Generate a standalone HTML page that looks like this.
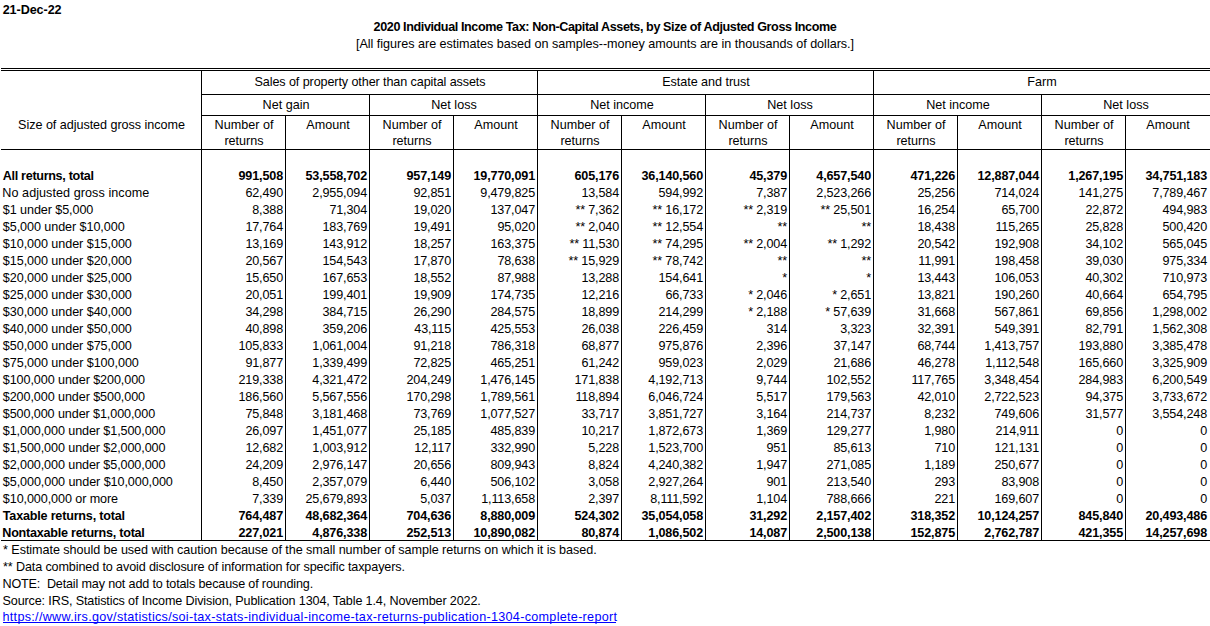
<!DOCTYPE html>
<html><head><meta charset="utf-8"><style>
html,body{margin:0;padding:0;background:#fff;width:1210px;height:626px;overflow:hidden;position:relative}
.t{position:absolute;font-family:"Liberation Sans",sans-serif;font-size:12.6px;line-height:20px;white-space:nowrap;color:#000}
.b{font-weight:bold}
.l{position:absolute;background:#000}
</style></head><body>
<div class="t b" style="top:0px;left:2.70px;letter-spacing:-0.075px;">21-Dec-22</div>
<div class="t b" style="top:17px;left:305.00px;width:600px;text-align:center;letter-spacing:-0.403px;">2020 Individual Income Tax: Non-Capital Assets, by Size of Adjusted Gross Income</div>
<div class="t " style="top:34px;left:305.00px;width:600px;text-align:center;letter-spacing:-0.019px;">[All figures are estimates based on samples--money amounts are in thousands of dollars.]</div>
<div class="l" style="left:1px;top:68px;width:1209px;height:1px;background:#000"></div>
<div class="l" style="left:1px;top:70px;width:1209px;height:1px;background:#000"></div>
<div class="l" style="left:201px;top:94px;width:1009px;height:1px;background:#000"></div>
<div class="l" style="left:201px;top:115px;width:1009px;height:1px;background:#000"></div>
<div class="l" style="left:1px;top:149px;width:1209px;height:1px;background:#000"></div>
<div class="l" style="left:1px;top:540px;width:1209px;height:1px;background:#000"></div>
<div class="l" style="left:201px;top:70px;width:1px;height:471px"></div>
<div class="l" style="left:285px;top:115px;width:1px;height:426px"></div>
<div class="l" style="left:369px;top:94px;width:1px;height:447px"></div>
<div class="l" style="left:453px;top:115px;width:1px;height:426px"></div>
<div class="l" style="left:537px;top:70px;width:1px;height:471px"></div>
<div class="l" style="left:621px;top:115px;width:1px;height:426px"></div>
<div class="l" style="left:705px;top:94px;width:1px;height:447px"></div>
<div class="l" style="left:789px;top:115px;width:1px;height:426px"></div>
<div class="l" style="left:873px;top:70px;width:1px;height:471px"></div>
<div class="l" style="left:957px;top:115px;width:1px;height:426px"></div>
<div class="l" style="left:1041px;top:94px;width:1px;height:447px"></div>
<div class="l" style="left:1125px;top:115px;width:1px;height:426px"></div>
<div class="t " style="top:115px;left:-198.50px;width:600px;text-align:center;letter-spacing:-0.043px;">Size of adjusted gross income</div>
<div class="t " style="top:72px;left:70.00px;width:600px;text-align:center;letter-spacing:-0.100px;">Sales of property other than capital assets</div>
<div class="t " style="top:95px;left:-14.00px;width:600px;text-align:center;">Net gain</div>
<div class="t " style="top:115px;left:-56.00px;width:600px;text-align:center;">Number of</div>
<div class="t " style="top:131px;left:-56.00px;width:600px;text-align:center;">returns</div>
<div class="t " style="top:115px;left:28.00px;width:600px;text-align:center;">Amount</div>
<div class="t " style="top:95px;left:154.00px;width:600px;text-align:center;">Net loss</div>
<div class="t " style="top:115px;left:112.00px;width:600px;text-align:center;">Number of</div>
<div class="t " style="top:131px;left:112.00px;width:600px;text-align:center;">returns</div>
<div class="t " style="top:115px;left:196.00px;width:600px;text-align:center;">Amount</div>
<div class="t " style="top:72px;left:406.00px;width:600px;text-align:center;letter-spacing:-0.040px;">Estate and trust</div>
<div class="t " style="top:95px;left:322.00px;width:600px;text-align:center;">Net income</div>
<div class="t " style="top:115px;left:280.00px;width:600px;text-align:center;">Number of</div>
<div class="t " style="top:131px;left:280.00px;width:600px;text-align:center;">returns</div>
<div class="t " style="top:115px;left:364.00px;width:600px;text-align:center;">Amount</div>
<div class="t " style="top:95px;left:490.00px;width:600px;text-align:center;">Net loss</div>
<div class="t " style="top:115px;left:448.00px;width:600px;text-align:center;">Number of</div>
<div class="t " style="top:131px;left:448.00px;width:600px;text-align:center;">returns</div>
<div class="t " style="top:115px;left:532.00px;width:600px;text-align:center;">Amount</div>
<div class="t " style="top:72px;left:742.00px;width:600px;text-align:center;">Farm</div>
<div class="t " style="top:95px;left:658.00px;width:600px;text-align:center;">Net income</div>
<div class="t " style="top:115px;left:616.00px;width:600px;text-align:center;">Number of</div>
<div class="t " style="top:131px;left:616.00px;width:600px;text-align:center;">returns</div>
<div class="t " style="top:115px;left:700.00px;width:600px;text-align:center;">Amount</div>
<div class="t " style="top:95px;left:826.00px;width:600px;text-align:center;">Net loss</div>
<div class="t " style="top:115px;left:784.00px;width:600px;text-align:center;">Number of</div>
<div class="t " style="top:131px;left:784.00px;width:600px;text-align:center;">returns</div>
<div class="t " style="top:115px;left:868.00px;width:600px;text-align:center;">Amount</div>
<div class="t b" style="top:166px;left:2.80px;letter-spacing:-0.317px;">All returns, total</div>
<div class="t b" style="top:166px;right:927.00px;letter-spacing:-0.150px;">991,508</div>
<div class="t b" style="top:166px;right:843.00px;letter-spacing:-0.150px;">53,558,702</div>
<div class="t b" style="top:166px;right:759.00px;letter-spacing:-0.150px;">957,149</div>
<div class="t b" style="top:166px;right:675.00px;letter-spacing:-0.150px;">19,770,091</div>
<div class="t b" style="top:166px;right:591.00px;letter-spacing:-0.150px;">605,176</div>
<div class="t b" style="top:166px;right:507.00px;letter-spacing:-0.150px;">36,140,560</div>
<div class="t b" style="top:166px;right:423.00px;letter-spacing:-0.150px;">45,379</div>
<div class="t b" style="top:166px;right:339.00px;letter-spacing:-0.150px;">4,657,540</div>
<div class="t b" style="top:166px;right:255.00px;letter-spacing:-0.150px;">471,226</div>
<div class="t b" style="top:166px;right:171.00px;letter-spacing:-0.150px;">12,887,044</div>
<div class="t b" style="top:166px;right:87.00px;letter-spacing:-0.150px;">1,267,195</div>
<div class="t b" style="top:166px;right:3.00px;letter-spacing:-0.150px;">34,751,183</div>
<div class="t " style="top:183px;left:2.30px;letter-spacing:0.060px;">No adjusted gross income</div>
<div class="t " style="top:183px;right:927.00px;letter-spacing:-0.150px;">62,490</div>
<div class="t " style="top:183px;right:843.00px;letter-spacing:-0.150px;">2,955,094</div>
<div class="t " style="top:183px;right:759.00px;letter-spacing:-0.150px;">92,851</div>
<div class="t " style="top:183px;right:675.00px;letter-spacing:-0.150px;">9,479,825</div>
<div class="t " style="top:183px;right:591.00px;letter-spacing:-0.150px;">13,584</div>
<div class="t " style="top:183px;right:507.00px;letter-spacing:-0.150px;">594,992</div>
<div class="t " style="top:183px;right:423.00px;letter-spacing:-0.150px;">7,387</div>
<div class="t " style="top:183px;right:339.00px;letter-spacing:-0.150px;">2,523,266</div>
<div class="t " style="top:183px;right:255.00px;letter-spacing:-0.150px;">25,256</div>
<div class="t " style="top:183px;right:171.00px;letter-spacing:-0.150px;">714,024</div>
<div class="t " style="top:183px;right:87.00px;letter-spacing:-0.150px;">141,275</div>
<div class="t " style="top:183px;right:3.00px;letter-spacing:-0.150px;">7,789,467</div>
<div class="t " style="top:200px;left:2.80px;letter-spacing:-0.086px;">$1 under $5,000</div>
<div class="t " style="top:200px;right:927.00px;letter-spacing:-0.150px;">8,388</div>
<div class="t " style="top:200px;right:843.00px;letter-spacing:-0.150px;">71,304</div>
<div class="t " style="top:200px;right:759.00px;letter-spacing:-0.150px;">19,020</div>
<div class="t " style="top:200px;right:675.00px;letter-spacing:-0.150px;">137,047</div>
<div class="t " style="top:200px;right:591.00px;letter-spacing:-0.150px;">** 7,362</div>
<div class="t " style="top:200px;right:507.00px;letter-spacing:-0.150px;">** 16,172</div>
<div class="t " style="top:200px;right:423.00px;letter-spacing:-0.150px;">** 2,319</div>
<div class="t " style="top:200px;right:339.00px;letter-spacing:-0.150px;">** 25,501</div>
<div class="t " style="top:200px;right:255.00px;letter-spacing:-0.150px;">16,254</div>
<div class="t " style="top:200px;right:171.00px;letter-spacing:-0.150px;">65,700</div>
<div class="t " style="top:200px;right:87.00px;letter-spacing:-0.150px;">22,872</div>
<div class="t " style="top:200px;right:3.00px;letter-spacing:-0.150px;">494,983</div>
<div class="t " style="top:217px;left:2.80px;letter-spacing:-0.074px;">$5,000 under $10,000</div>
<div class="t " style="top:217px;right:927.00px;letter-spacing:-0.150px;">17,764</div>
<div class="t " style="top:217px;right:843.00px;letter-spacing:-0.150px;">183,769</div>
<div class="t " style="top:217px;right:759.00px;letter-spacing:-0.150px;">19,491</div>
<div class="t " style="top:217px;right:675.00px;letter-spacing:-0.150px;">95,020</div>
<div class="t " style="top:217px;right:591.00px;letter-spacing:-0.150px;">** 2,040</div>
<div class="t " style="top:217px;right:507.00px;letter-spacing:-0.150px;">** 12,554</div>
<div class="t " style="top:217px;right:423.00px;letter-spacing:-0.150px;">**</div>
<div class="t " style="top:217px;right:339.00px;letter-spacing:-0.150px;">**</div>
<div class="t " style="top:217px;right:255.00px;letter-spacing:-0.150px;">18,438</div>
<div class="t " style="top:217px;right:171.00px;letter-spacing:-0.150px;">115,265</div>
<div class="t " style="top:217px;right:87.00px;letter-spacing:-0.150px;">25,828</div>
<div class="t " style="top:217px;right:3.00px;letter-spacing:-0.150px;">500,420</div>
<div class="t " style="top:234px;left:2.80px;letter-spacing:-0.060px;">$10,000 under $15,000</div>
<div class="t " style="top:234px;right:927.00px;letter-spacing:-0.150px;">13,169</div>
<div class="t " style="top:234px;right:843.00px;letter-spacing:-0.150px;">143,912</div>
<div class="t " style="top:234px;right:759.00px;letter-spacing:-0.150px;">18,257</div>
<div class="t " style="top:234px;right:675.00px;letter-spacing:-0.150px;">163,375</div>
<div class="t " style="top:234px;right:591.00px;letter-spacing:-0.150px;">** 11,530</div>
<div class="t " style="top:234px;right:507.00px;letter-spacing:-0.150px;">** 74,295</div>
<div class="t " style="top:234px;right:423.00px;letter-spacing:-0.150px;">** 2,004</div>
<div class="t " style="top:234px;right:339.00px;letter-spacing:-0.150px;">** 1,292</div>
<div class="t " style="top:234px;right:255.00px;letter-spacing:-0.150px;">20,542</div>
<div class="t " style="top:234px;right:171.00px;letter-spacing:-0.150px;">192,908</div>
<div class="t " style="top:234px;right:87.00px;letter-spacing:-0.150px;">34,102</div>
<div class="t " style="top:234px;right:3.00px;letter-spacing:-0.150px;">565,045</div>
<div class="t " style="top:251px;left:2.80px;letter-spacing:-0.060px;">$15,000 under $20,000</div>
<div class="t " style="top:251px;right:927.00px;letter-spacing:-0.150px;">20,567</div>
<div class="t " style="top:251px;right:843.00px;letter-spacing:-0.150px;">154,543</div>
<div class="t " style="top:251px;right:759.00px;letter-spacing:-0.150px;">17,870</div>
<div class="t " style="top:251px;right:675.00px;letter-spacing:-0.150px;">78,638</div>
<div class="t " style="top:251px;right:591.00px;letter-spacing:-0.150px;">** 15,929</div>
<div class="t " style="top:251px;right:507.00px;letter-spacing:-0.150px;">** 78,742</div>
<div class="t " style="top:251px;right:423.00px;letter-spacing:-0.150px;">**</div>
<div class="t " style="top:251px;right:339.00px;letter-spacing:-0.150px;">**</div>
<div class="t " style="top:251px;right:255.00px;letter-spacing:-0.150px;">11,991</div>
<div class="t " style="top:251px;right:171.00px;letter-spacing:-0.150px;">198,458</div>
<div class="t " style="top:251px;right:87.00px;letter-spacing:-0.150px;">39,030</div>
<div class="t " style="top:251px;right:3.00px;letter-spacing:-0.150px;">975,334</div>
<div class="t " style="top:268px;left:2.80px;letter-spacing:-0.060px;">$20,000 under $25,000</div>
<div class="t " style="top:268px;right:927.00px;letter-spacing:-0.150px;">15,650</div>
<div class="t " style="top:268px;right:843.00px;letter-spacing:-0.150px;">167,653</div>
<div class="t " style="top:268px;right:759.00px;letter-spacing:-0.150px;">18,552</div>
<div class="t " style="top:268px;right:675.00px;letter-spacing:-0.150px;">87,988</div>
<div class="t " style="top:268px;right:591.00px;letter-spacing:-0.150px;">13,288</div>
<div class="t " style="top:268px;right:507.00px;letter-spacing:-0.150px;">154,641</div>
<div class="t " style="top:268px;right:423.00px;letter-spacing:-0.150px;">*</div>
<div class="t " style="top:268px;right:339.00px;letter-spacing:-0.150px;">*</div>
<div class="t " style="top:268px;right:255.00px;letter-spacing:-0.150px;">13,443</div>
<div class="t " style="top:268px;right:171.00px;letter-spacing:-0.150px;">106,053</div>
<div class="t " style="top:268px;right:87.00px;letter-spacing:-0.150px;">40,302</div>
<div class="t " style="top:268px;right:3.00px;letter-spacing:-0.150px;">710,973</div>
<div class="t " style="top:285px;left:2.80px;letter-spacing:-0.060px;">$25,000 under $30,000</div>
<div class="t " style="top:285px;right:927.00px;letter-spacing:-0.150px;">20,051</div>
<div class="t " style="top:285px;right:843.00px;letter-spacing:-0.150px;">199,401</div>
<div class="t " style="top:285px;right:759.00px;letter-spacing:-0.150px;">19,909</div>
<div class="t " style="top:285px;right:675.00px;letter-spacing:-0.150px;">174,735</div>
<div class="t " style="top:285px;right:591.00px;letter-spacing:-0.150px;">12,216</div>
<div class="t " style="top:285px;right:507.00px;letter-spacing:-0.150px;">66,733</div>
<div class="t " style="top:285px;right:423.00px;letter-spacing:-0.150px;">* 2,046</div>
<div class="t " style="top:285px;right:339.00px;letter-spacing:-0.150px;">* 2,651</div>
<div class="t " style="top:285px;right:255.00px;letter-spacing:-0.150px;">13,821</div>
<div class="t " style="top:285px;right:171.00px;letter-spacing:-0.150px;">190,260</div>
<div class="t " style="top:285px;right:87.00px;letter-spacing:-0.150px;">40,664</div>
<div class="t " style="top:285px;right:3.00px;letter-spacing:-0.150px;">654,795</div>
<div class="t " style="top:302px;left:2.80px;letter-spacing:-0.060px;">$30,000 under $40,000</div>
<div class="t " style="top:302px;right:927.00px;letter-spacing:-0.150px;">34,298</div>
<div class="t " style="top:302px;right:843.00px;letter-spacing:-0.150px;">384,715</div>
<div class="t " style="top:302px;right:759.00px;letter-spacing:-0.150px;">26,290</div>
<div class="t " style="top:302px;right:675.00px;letter-spacing:-0.150px;">284,575</div>
<div class="t " style="top:302px;right:591.00px;letter-spacing:-0.150px;">18,899</div>
<div class="t " style="top:302px;right:507.00px;letter-spacing:-0.150px;">214,299</div>
<div class="t " style="top:302px;right:423.00px;letter-spacing:-0.150px;">* 2,188</div>
<div class="t " style="top:302px;right:339.00px;letter-spacing:-0.150px;">* 57,639</div>
<div class="t " style="top:302px;right:255.00px;letter-spacing:-0.150px;">31,668</div>
<div class="t " style="top:302px;right:171.00px;letter-spacing:-0.150px;">567,861</div>
<div class="t " style="top:302px;right:87.00px;letter-spacing:-0.150px;">69,856</div>
<div class="t " style="top:302px;right:3.00px;letter-spacing:-0.150px;">1,298,002</div>
<div class="t " style="top:319px;left:2.80px;letter-spacing:-0.060px;">$40,000 under $50,000</div>
<div class="t " style="top:319px;right:927.00px;letter-spacing:-0.150px;">40,898</div>
<div class="t " style="top:319px;right:843.00px;letter-spacing:-0.150px;">359,206</div>
<div class="t " style="top:319px;right:759.00px;letter-spacing:-0.150px;">43,115</div>
<div class="t " style="top:319px;right:675.00px;letter-spacing:-0.150px;">425,553</div>
<div class="t " style="top:319px;right:591.00px;letter-spacing:-0.150px;">26,038</div>
<div class="t " style="top:319px;right:507.00px;letter-spacing:-0.150px;">226,459</div>
<div class="t " style="top:319px;right:423.00px;letter-spacing:-0.150px;">314</div>
<div class="t " style="top:319px;right:339.00px;letter-spacing:-0.150px;">3,323</div>
<div class="t " style="top:319px;right:255.00px;letter-spacing:-0.150px;">32,391</div>
<div class="t " style="top:319px;right:171.00px;letter-spacing:-0.150px;">549,391</div>
<div class="t " style="top:319px;right:87.00px;letter-spacing:-0.150px;">82,791</div>
<div class="t " style="top:319px;right:3.00px;letter-spacing:-0.150px;">1,562,308</div>
<div class="t " style="top:336px;left:2.80px;letter-spacing:-0.060px;">$50,000 under $75,000</div>
<div class="t " style="top:336px;right:927.00px;letter-spacing:-0.150px;">105,833</div>
<div class="t " style="top:336px;right:843.00px;letter-spacing:-0.150px;">1,061,004</div>
<div class="t " style="top:336px;right:759.00px;letter-spacing:-0.150px;">91,218</div>
<div class="t " style="top:336px;right:675.00px;letter-spacing:-0.150px;">786,318</div>
<div class="t " style="top:336px;right:591.00px;letter-spacing:-0.150px;">68,877</div>
<div class="t " style="top:336px;right:507.00px;letter-spacing:-0.150px;">975,876</div>
<div class="t " style="top:336px;right:423.00px;letter-spacing:-0.150px;">2,396</div>
<div class="t " style="top:336px;right:339.00px;letter-spacing:-0.150px;">37,147</div>
<div class="t " style="top:336px;right:255.00px;letter-spacing:-0.150px;">68,744</div>
<div class="t " style="top:336px;right:171.00px;letter-spacing:-0.150px;">1,413,757</div>
<div class="t " style="top:336px;right:87.00px;letter-spacing:-0.150px;">193,880</div>
<div class="t " style="top:336px;right:3.00px;letter-spacing:-0.150px;">3,385,478</div>
<div class="t " style="top:353px;left:2.80px;letter-spacing:-0.057px;">$75,000 under $100,000</div>
<div class="t " style="top:353px;right:927.00px;letter-spacing:-0.150px;">91,877</div>
<div class="t " style="top:353px;right:843.00px;letter-spacing:-0.150px;">1,339,499</div>
<div class="t " style="top:353px;right:759.00px;letter-spacing:-0.150px;">72,825</div>
<div class="t " style="top:353px;right:675.00px;letter-spacing:-0.150px;">465,251</div>
<div class="t " style="top:353px;right:591.00px;letter-spacing:-0.150px;">61,242</div>
<div class="t " style="top:353px;right:507.00px;letter-spacing:-0.150px;">959,023</div>
<div class="t " style="top:353px;right:423.00px;letter-spacing:-0.150px;">2,029</div>
<div class="t " style="top:353px;right:339.00px;letter-spacing:-0.150px;">21,686</div>
<div class="t " style="top:353px;right:255.00px;letter-spacing:-0.150px;">46,278</div>
<div class="t " style="top:353px;right:171.00px;letter-spacing:-0.150px;">1,112,548</div>
<div class="t " style="top:353px;right:87.00px;letter-spacing:-0.150px;">165,660</div>
<div class="t " style="top:353px;right:3.00px;letter-spacing:-0.150px;">3,325,909</div>
<div class="t " style="top:370px;left:2.80px;letter-spacing:-0.090px;">$100,000 under $200,000</div>
<div class="t " style="top:370px;right:927.00px;letter-spacing:-0.150px;">219,338</div>
<div class="t " style="top:370px;right:843.00px;letter-spacing:-0.150px;">4,321,472</div>
<div class="t " style="top:370px;right:759.00px;letter-spacing:-0.150px;">204,249</div>
<div class="t " style="top:370px;right:675.00px;letter-spacing:-0.150px;">1,476,145</div>
<div class="t " style="top:370px;right:591.00px;letter-spacing:-0.150px;">171,838</div>
<div class="t " style="top:370px;right:507.00px;letter-spacing:-0.150px;">4,192,713</div>
<div class="t " style="top:370px;right:423.00px;letter-spacing:-0.150px;">9,744</div>
<div class="t " style="top:370px;right:339.00px;letter-spacing:-0.150px;">102,552</div>
<div class="t " style="top:370px;right:255.00px;letter-spacing:-0.150px;">117,765</div>
<div class="t " style="top:370px;right:171.00px;letter-spacing:-0.150px;">3,348,454</div>
<div class="t " style="top:370px;right:87.00px;letter-spacing:-0.150px;">284,983</div>
<div class="t " style="top:370px;right:3.00px;letter-spacing:-0.150px;">6,200,549</div>
<div class="t " style="top:387px;left:2.80px;letter-spacing:-0.090px;">$200,000 under $500,000</div>
<div class="t " style="top:387px;right:927.00px;letter-spacing:-0.150px;">186,560</div>
<div class="t " style="top:387px;right:843.00px;letter-spacing:-0.150px;">5,567,556</div>
<div class="t " style="top:387px;right:759.00px;letter-spacing:-0.150px;">170,298</div>
<div class="t " style="top:387px;right:675.00px;letter-spacing:-0.150px;">1,789,561</div>
<div class="t " style="top:387px;right:591.00px;letter-spacing:-0.150px;">118,894</div>
<div class="t " style="top:387px;right:507.00px;letter-spacing:-0.150px;">6,046,724</div>
<div class="t " style="top:387px;right:423.00px;letter-spacing:-0.150px;">5,517</div>
<div class="t " style="top:387px;right:339.00px;letter-spacing:-0.150px;">179,563</div>
<div class="t " style="top:387px;right:255.00px;letter-spacing:-0.150px;">42,010</div>
<div class="t " style="top:387px;right:171.00px;letter-spacing:-0.150px;">2,722,523</div>
<div class="t " style="top:387px;right:87.00px;letter-spacing:-0.150px;">94,375</div>
<div class="t " style="top:387px;right:3.00px;letter-spacing:-0.150px;">3,733,672</div>
<div class="t " style="top:404px;left:2.80px;letter-spacing:-0.100px;">$500,000 under $1,000,000</div>
<div class="t " style="top:404px;right:927.00px;letter-spacing:-0.150px;">75,848</div>
<div class="t " style="top:404px;right:843.00px;letter-spacing:-0.150px;">3,181,468</div>
<div class="t " style="top:404px;right:759.00px;letter-spacing:-0.150px;">73,769</div>
<div class="t " style="top:404px;right:675.00px;letter-spacing:-0.150px;">1,077,527</div>
<div class="t " style="top:404px;right:591.00px;letter-spacing:-0.150px;">33,717</div>
<div class="t " style="top:404px;right:507.00px;letter-spacing:-0.150px;">3,851,727</div>
<div class="t " style="top:404px;right:423.00px;letter-spacing:-0.150px;">3,164</div>
<div class="t " style="top:404px;right:339.00px;letter-spacing:-0.150px;">214,737</div>
<div class="t " style="top:404px;right:255.00px;letter-spacing:-0.150px;">8,232</div>
<div class="t " style="top:404px;right:171.00px;letter-spacing:-0.150px;">749,606</div>
<div class="t " style="top:404px;right:87.00px;letter-spacing:-0.150px;">31,577</div>
<div class="t " style="top:404px;right:3.00px;letter-spacing:-0.150px;">3,554,248</div>
<div class="t " style="top:421px;left:2.80px;letter-spacing:-0.100px;">$1,000,000 under $1,500,000</div>
<div class="t " style="top:421px;right:927.00px;letter-spacing:-0.150px;">26,097</div>
<div class="t " style="top:421px;right:843.00px;letter-spacing:-0.150px;">1,451,077</div>
<div class="t " style="top:421px;right:759.00px;letter-spacing:-0.150px;">25,185</div>
<div class="t " style="top:421px;right:675.00px;letter-spacing:-0.150px;">485,839</div>
<div class="t " style="top:421px;right:591.00px;letter-spacing:-0.150px;">10,217</div>
<div class="t " style="top:421px;right:507.00px;letter-spacing:-0.150px;">1,872,673</div>
<div class="t " style="top:421px;right:423.00px;letter-spacing:-0.150px;">1,369</div>
<div class="t " style="top:421px;right:339.00px;letter-spacing:-0.150px;">129,277</div>
<div class="t " style="top:421px;right:255.00px;letter-spacing:-0.150px;">1,980</div>
<div class="t " style="top:421px;right:171.00px;letter-spacing:-0.150px;">214,911</div>
<div class="t " style="top:421px;right:87.00px;letter-spacing:-0.150px;">0</div>
<div class="t " style="top:421px;right:3.00px;letter-spacing:-0.150px;">0</div>
<div class="t " style="top:438px;left:2.80px;letter-spacing:-0.100px;">$1,500,000 under $2,000,000</div>
<div class="t " style="top:438px;right:927.00px;letter-spacing:-0.150px;">12,682</div>
<div class="t " style="top:438px;right:843.00px;letter-spacing:-0.150px;">1,003,912</div>
<div class="t " style="top:438px;right:759.00px;letter-spacing:-0.150px;">12,117</div>
<div class="t " style="top:438px;right:675.00px;letter-spacing:-0.150px;">332,990</div>
<div class="t " style="top:438px;right:591.00px;letter-spacing:-0.150px;">5,228</div>
<div class="t " style="top:438px;right:507.00px;letter-spacing:-0.150px;">1,523,700</div>
<div class="t " style="top:438px;right:423.00px;letter-spacing:-0.150px;">951</div>
<div class="t " style="top:438px;right:339.00px;letter-spacing:-0.150px;">85,613</div>
<div class="t " style="top:438px;right:255.00px;letter-spacing:-0.150px;">710</div>
<div class="t " style="top:438px;right:171.00px;letter-spacing:-0.150px;">121,131</div>
<div class="t " style="top:438px;right:87.00px;letter-spacing:-0.150px;">0</div>
<div class="t " style="top:438px;right:3.00px;letter-spacing:-0.150px;">0</div>
<div class="t " style="top:455px;left:2.80px;letter-spacing:-0.100px;">$2,000,000 under $5,000,000</div>
<div class="t " style="top:455px;right:927.00px;letter-spacing:-0.150px;">24,209</div>
<div class="t " style="top:455px;right:843.00px;letter-spacing:-0.150px;">2,976,147</div>
<div class="t " style="top:455px;right:759.00px;letter-spacing:-0.150px;">20,656</div>
<div class="t " style="top:455px;right:675.00px;letter-spacing:-0.150px;">809,943</div>
<div class="t " style="top:455px;right:591.00px;letter-spacing:-0.150px;">8,824</div>
<div class="t " style="top:455px;right:507.00px;letter-spacing:-0.150px;">4,240,382</div>
<div class="t " style="top:455px;right:423.00px;letter-spacing:-0.150px;">1,947</div>
<div class="t " style="top:455px;right:339.00px;letter-spacing:-0.150px;">271,085</div>
<div class="t " style="top:455px;right:255.00px;letter-spacing:-0.150px;">1,189</div>
<div class="t " style="top:455px;right:171.00px;letter-spacing:-0.150px;">250,677</div>
<div class="t " style="top:455px;right:87.00px;letter-spacing:-0.150px;">0</div>
<div class="t " style="top:455px;right:3.00px;letter-spacing:-0.150px;">0</div>
<div class="t " style="top:472px;left:2.80px;letter-spacing:-0.082px;">$5,000,000 under $10,000,000</div>
<div class="t " style="top:472px;right:927.00px;letter-spacing:-0.150px;">8,450</div>
<div class="t " style="top:472px;right:843.00px;letter-spacing:-0.150px;">2,357,079</div>
<div class="t " style="top:472px;right:759.00px;letter-spacing:-0.150px;">6,440</div>
<div class="t " style="top:472px;right:675.00px;letter-spacing:-0.150px;">506,102</div>
<div class="t " style="top:472px;right:591.00px;letter-spacing:-0.150px;">3,058</div>
<div class="t " style="top:472px;right:507.00px;letter-spacing:-0.150px;">2,927,264</div>
<div class="t " style="top:472px;right:423.00px;letter-spacing:-0.150px;">901</div>
<div class="t " style="top:472px;right:339.00px;letter-spacing:-0.150px;">213,540</div>
<div class="t " style="top:472px;right:255.00px;letter-spacing:-0.150px;">293</div>
<div class="t " style="top:472px;right:171.00px;letter-spacing:-0.150px;">83,908</div>
<div class="t " style="top:472px;right:87.00px;letter-spacing:-0.150px;">0</div>
<div class="t " style="top:472px;right:3.00px;letter-spacing:-0.150px;">0</div>
<div class="t " style="top:489px;left:2.80px;letter-spacing:-0.089px;">$10,000,000 or more</div>
<div class="t " style="top:489px;right:927.00px;letter-spacing:-0.150px;">7,339</div>
<div class="t " style="top:489px;right:843.00px;letter-spacing:-0.150px;">25,679,893</div>
<div class="t " style="top:489px;right:759.00px;letter-spacing:-0.150px;">5,037</div>
<div class="t " style="top:489px;right:675.00px;letter-spacing:-0.150px;">1,113,658</div>
<div class="t " style="top:489px;right:591.00px;letter-spacing:-0.150px;">2,397</div>
<div class="t " style="top:489px;right:507.00px;letter-spacing:-0.150px;">8,111,592</div>
<div class="t " style="top:489px;right:423.00px;letter-spacing:-0.150px;">1,104</div>
<div class="t " style="top:489px;right:339.00px;letter-spacing:-0.150px;">788,666</div>
<div class="t " style="top:489px;right:255.00px;letter-spacing:-0.150px;">221</div>
<div class="t " style="top:489px;right:171.00px;letter-spacing:-0.150px;">169,607</div>
<div class="t " style="top:489px;right:87.00px;letter-spacing:-0.150px;">0</div>
<div class="t " style="top:489px;right:3.00px;letter-spacing:-0.150px;">0</div>
<div class="t b" style="top:506px;left:2.80px;letter-spacing:-0.200px;">Taxable returns, total</div>
<div class="t b" style="top:506px;right:927.00px;letter-spacing:-0.150px;">764,487</div>
<div class="t b" style="top:506px;right:843.00px;letter-spacing:-0.150px;">48,682,364</div>
<div class="t b" style="top:506px;right:759.00px;letter-spacing:-0.150px;">704,636</div>
<div class="t b" style="top:506px;right:675.00px;letter-spacing:-0.150px;">8,880,009</div>
<div class="t b" style="top:506px;right:591.00px;letter-spacing:-0.150px;">524,302</div>
<div class="t b" style="top:506px;right:507.00px;letter-spacing:-0.150px;">35,054,058</div>
<div class="t b" style="top:506px;right:423.00px;letter-spacing:-0.150px;">31,292</div>
<div class="t b" style="top:506px;right:339.00px;letter-spacing:-0.150px;">2,157,402</div>
<div class="t b" style="top:506px;right:255.00px;letter-spacing:-0.150px;">318,352</div>
<div class="t b" style="top:506px;right:171.00px;letter-spacing:-0.150px;">10,124,257</div>
<div class="t b" style="top:506px;right:87.00px;letter-spacing:-0.150px;">845,840</div>
<div class="t b" style="top:506px;right:3.00px;letter-spacing:-0.150px;">20,493,486</div>
<div class="t b" style="top:523px;left:2.30px;letter-spacing:-0.242px;">Nontaxable returns, total</div>
<div class="t b" style="top:523px;right:927.00px;letter-spacing:-0.150px;">227,021</div>
<div class="t b" style="top:523px;right:843.00px;letter-spacing:-0.150px;">4,876,338</div>
<div class="t b" style="top:523px;right:759.00px;letter-spacing:-0.150px;">252,513</div>
<div class="t b" style="top:523px;right:675.00px;letter-spacing:-0.150px;">10,890,082</div>
<div class="t b" style="top:523px;right:591.00px;letter-spacing:-0.150px;">80,874</div>
<div class="t b" style="top:523px;right:507.00px;letter-spacing:-0.150px;">1,086,502</div>
<div class="t b" style="top:523px;right:423.00px;letter-spacing:-0.150px;">14,087</div>
<div class="t b" style="top:523px;right:339.00px;letter-spacing:-0.150px;">2,500,138</div>
<div class="t b" style="top:523px;right:255.00px;letter-spacing:-0.150px;">152,875</div>
<div class="t b" style="top:523px;right:171.00px;letter-spacing:-0.150px;">2,762,787</div>
<div class="t b" style="top:523px;right:87.00px;letter-spacing:-0.150px;">421,355</div>
<div class="t b" style="top:523px;right:3.00px;letter-spacing:-0.150px;">14,257,698</div>
<div class="t " style="top:540px;left:3.00px;letter-spacing:-0.053px;white-space:pre;">* Estimate should be used with caution because of the small number of sample returns on which it is based.</div>
<div class="t " style="top:557px;left:3.00px;letter-spacing:-0.121px;white-space:pre;">** Data combined to avoid disclosure of information for specific taxpayers.</div>
<div class="t " style="top:574px;left:2.50px;letter-spacing:-0.156px;white-space:pre;">NOTE:  Detail may not add to totals because of rounding.</div>
<div class="t " style="top:591px;left:2.50px;letter-spacing:-0.133px;white-space:pre;">Source: IRS, Statistics of Income Division, Publication 1304, Table 1.4, November 2022.</div>
<div class="t " style="top:607px;left:2.50px;letter-spacing:0.297px;color:#0000ff;">https://www.irs.gov/statistics/soi-tax-stats-individual-income-tax-returns-publication-1304-complete-report</div>
<div class="l" style="left:3px;top:622px;width:613px;height:1px;background:#0000ff"></div>
</body></html>
